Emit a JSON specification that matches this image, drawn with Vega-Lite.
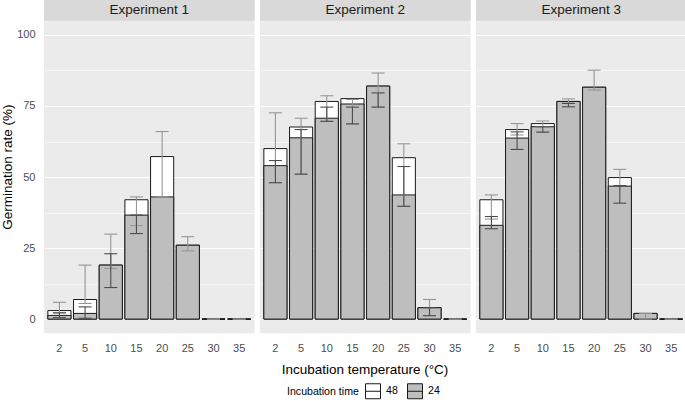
{
  "$schema": "https://vega.github.io/schema/vega-lite/v6.json",
  "padding": 0,
  "background": "white",
  "data": {"values": [
    {"experiment": "Experiment 1", "temp": 2, "time": "48", "rate": 3, "lo": 2.2, "hi": 5.9},
    {"experiment": "Experiment 1", "temp": 5, "time": "48", "rate": 6.9, "lo": 5.5, "hi": 19},
    {"experiment": "Experiment 1", "temp": 10, "time": "48", "rate": 19, "lo": 17.8, "hi": 29.9},
    {"experiment": "Experiment 1", "temp": 15, "time": "48", "rate": 42, "lo": 32.9, "hi": 43},
    {"experiment": "Experiment 1", "temp": 20, "time": "48", "rate": 57.2, "lo": 43, "hi": 66},
    {"experiment": "Experiment 1", "temp": 25, "time": "48", "rate": 26, "lo": 24, "hi": 29},
    {"experiment": "Experiment 1", "temp": 30, "time": "48", "rate": 0, "lo": 0, "hi": 0},
    {"experiment": "Experiment 1", "temp": 35, "time": "48", "rate": 0, "lo": 0, "hi": 0},
    {"experiment": "Experiment 1", "temp": 2, "time": "24", "rate": 1.3, "lo": 0.5, "hi": 2.2},
    {"experiment": "Experiment 1", "temp": 5, "time": "24", "rate": 2, "lo": 0.3, "hi": 4.3},
    {"experiment": "Experiment 1", "temp": 10, "time": "24", "rate": 19, "lo": 11.1, "hi": 23},
    {"experiment": "Experiment 1", "temp": 15, "time": "24", "rate": 36.6, "lo": 30.1, "hi": 36.6},
    {"experiment": "Experiment 1", "temp": 20, "time": "24", "rate": 43, "lo": null, "hi": null},
    {"experiment": "Experiment 1", "temp": 25, "time": "24", "rate": 26, "lo": null, "hi": null},
    {"experiment": "Experiment 1", "temp": 30, "time": "24", "rate": 0, "lo": null, "hi": null},
    {"experiment": "Experiment 1", "temp": 35, "time": "24", "rate": 0, "lo": null, "hi": null},
    {"experiment": "Experiment 2", "temp": 2, "time": "48", "rate": 60, "lo": 48, "hi": 72.6},
    {"experiment": "Experiment 2", "temp": 5, "time": "48", "rate": 67.6, "lo": 51, "hi": 70.7},
    {"experiment": "Experiment 2", "temp": 10, "time": "48", "rate": 76.6, "lo": 69.6, "hi": 78.6},
    {"experiment": "Experiment 2", "temp": 15, "time": "48", "rate": 77.6, "lo": 68.7, "hi": 77.3},
    {"experiment": "Experiment 2", "temp": 20, "time": "48", "rate": 82, "lo": 74.6, "hi": 86.6},
    {"experiment": "Experiment 2", "temp": 25, "time": "48", "rate": 56.8, "lo": 39.7, "hi": 61.7},
    {"experiment": "Experiment 2", "temp": 30, "time": "48", "rate": 4, "lo": 1.2, "hi": 6.9},
    {"experiment": "Experiment 2", "temp": 35, "time": "48", "rate": 0, "lo": 0, "hi": 0},
    {"experiment": "Experiment 2", "temp": 2, "time": "24", "rate": 54, "lo": 48, "hi": 55.8},
    {"experiment": "Experiment 2", "temp": 5, "time": "24", "rate": 63.8, "lo": 51, "hi": 66.7},
    {"experiment": "Experiment 2", "temp": 10, "time": "24", "rate": 70.7, "lo": 69.6, "hi": 74.6},
    {"experiment": "Experiment 2", "temp": 15, "time": "24", "rate": 75.7, "lo": 68.7, "hi": 74.6},
    {"experiment": "Experiment 2", "temp": 20, "time": "24", "rate": 82, "lo": 74.6, "hi": 79.6},
    {"experiment": "Experiment 2", "temp": 25, "time": "24", "rate": 43.7, "lo": 39.7, "hi": 53.7},
    {"experiment": "Experiment 2", "temp": 30, "time": "24", "rate": 4, "lo": 1.2, "hi": 4},
    {"experiment": "Experiment 2", "temp": 35, "time": "24", "rate": 0, "lo": null, "hi": null},
    {"experiment": "Experiment 3", "temp": 2, "time": "48", "rate": 42, "lo": 35.2, "hi": 43.7},
    {"experiment": "Experiment 3", "temp": 5, "time": "48", "rate": 66.7, "lo": 64.8, "hi": 68.8},
    {"experiment": "Experiment 3", "temp": 10, "time": "48", "rate": 68.8, "lo": 67.7, "hi": 69.7},
    {"experiment": "Experiment 3", "temp": 15, "time": "48", "rate": 76.6, "lo": 75.9, "hi": 77.5},
    {"experiment": "Experiment 3", "temp": 20, "time": "48", "rate": 81.6, "lo": 80.6, "hi": 87.6},
    {"experiment": "Experiment 3", "temp": 25, "time": "48", "rate": 49.8, "lo": 47, "hi": 52.7},
    {"experiment": "Experiment 3", "temp": 30, "time": "48", "rate": 2, "lo": 0, "hi": 2},
    {"experiment": "Experiment 3", "temp": 35, "time": "48", "rate": 0, "lo": 0, "hi": 0},
    {"experiment": "Experiment 3", "temp": 2, "time": "24", "rate": 33, "lo": 31.8, "hi": 36.1},
    {"experiment": "Experiment 3", "temp": 5, "time": "24", "rate": 63.7, "lo": 59.7, "hi": 65.9},
    {"experiment": "Experiment 3", "temp": 10, "time": "24", "rate": 67.7, "lo": 65.8, "hi": 67.7},
    {"experiment": "Experiment 3", "temp": 15, "time": "24", "rate": 76.6, "lo": 74.7, "hi": 75.9},
    {"experiment": "Experiment 3", "temp": 20, "time": "24", "rate": 81.6, "lo": null, "hi": null},
    {"experiment": "Experiment 3", "temp": 25, "time": "24", "rate": 46.8, "lo": 40.8, "hi": 47},
    {"experiment": "Experiment 3", "temp": 30, "time": "24", "rate": 2, "lo": null, "hi": null},
    {"experiment": "Experiment 3", "temp": 35, "time": "24", "rate": 0, "lo": null, "hi": null}
  ]},
  "facet": {
    "column": {
      "field": "experiment", "type": "nominal",
      "header": {
        "labels": false,
        "title": "Incubation temperature (°C)",
        "titleOrient": "bottom",
        "titleFontSize": 13.5,
        "titleFont": "Liberation Sans",
        "titleFontWeight": "normal",
        "titleColor": "#000000",
        "titlePadding": 0
      }
    }
  },
  "spacing": 5,
  "spec": {
    "width": 210.6,
    "height": 333.3,
    "layer": [
      {
        "transform": [{"filter": "datum.time === '48'"}],
        "mark": {"type": "bar", "stroke": "#1A1A1A", "strokeWidth": 1},
        "encoding": {
          "x": {
            "field": "temp", "type": "ordinal",
            "scale": {"paddingInner": 0.1, "paddingOuter": 0.15},
            "axis": {"title": null, "labelAngle": 0, "bandPosition": 0.5, "gridWidth": 1.1, "labelPadding": 8}
          },
          "y": {
            "field": "rate", "type": "quantitative", "stack": null,
            "title": "Germination rate (%)",
            "scale": {"domain": [-5, 112.3], "nice": false, "zero": false},
            "axis": {
              "values": [0, 12.5, 25, 37.5, 50, 62.5, 75, 87.5, 100],
              "labelExpr": "datum.value % 25 === 0 ? datum.label : ''",
              "gridWidth": {"condition": {"test": "datum.value % 25 === 0", "value": 1.1}, "value": 0.55},
              "labelPadding": 9, "titlePadding": 2
            }
          },
          "y2": {"datum": 0},
          "color": {
            "field": "time", "type": "nominal",
            "scale": {"domain": ["48", "24"], "range": ["#FFFFFF", "#BEBEBE"]},
            "legend": {
              "title": "Incubation time",
              "orient": "none", "legendX": 243, "legendY": 383,
              "direction": "horizontal",
              "titleOrient": "left", "titleBaseline": "middle", "titleAnchor": "middle",
              "titleFontSize": 10.6, "titleFontWeight": "normal", "titleColor": "#000000",
              "labelFontSize": 10.6, "labelColor": "#000000",
              "symbolType": "M-1,-1H1V1H-1Z M-1,0H1",
              "symbolSize": 225,
              "symbolStrokeColor": "#1A1A1A", "symbolStrokeWidth": 1,
              "labelOffset": 5, "columnPadding": 7, "titlePadding": 6
            }
          }
        }
      },
      {
        "transform": [{"filter": "datum.time === '24'"}],
        "mark": {"type": "bar", "stroke": "#1A1A1A", "strokeWidth": 1},
        "encoding": {
          "x": {"field": "temp", "type": "ordinal"},
          "y": {"field": "rate", "type": "quantitative", "stack": null, "title": "Germination rate (%)"},
          "y2": {"datum": 0},
          "color": {"field": "time", "type": "nominal"}
        }
      },
      {
        "transform": [{"filter": "datum.time === '48' && datum.lo != null"}],
        "layer": [
          {"mark": {"type": "rule", "color": "#969696", "strokeWidth": 1.1},
           "encoding": {"x": {"field": "temp", "type": "ordinal"}, "y": {"field": "lo", "type": "quantitative", "title": "Germination rate (%)"}, "y2": {"field": "hi"}}},
          {"mark": {"type": "tick", "color": "#969696", "size": 13, "thickness": 1.1, "opacity": 1},
           "encoding": {"x": {"field": "temp", "type": "ordinal"}, "y": {"field": "lo", "type": "quantitative", "title": "Germination rate (%)"}}},
          {"mark": {"type": "tick", "color": "#969696", "size": 13, "thickness": 1.1, "opacity": 1},
           "encoding": {"x": {"field": "temp", "type": "ordinal"}, "y": {"field": "hi", "type": "quantitative", "title": "Germination rate (%)"}}}
        ]
      },
      {
        "transform": [{"filter": "datum.time === '24' && datum.lo != null"}],
        "layer": [
          {"mark": {"type": "rule", "color": "#4D4D4D", "strokeWidth": 1.1},
           "encoding": {"x": {"field": "temp", "type": "ordinal"}, "y": {"field": "lo", "type": "quantitative", "title": "Germination rate (%)"}, "y2": {"field": "hi"}}},
          {"mark": {"type": "tick", "color": "#4D4D4D", "size": 13, "thickness": 1.1, "opacity": 1},
           "encoding": {"x": {"field": "temp", "type": "ordinal"}, "y": {"field": "lo", "type": "quantitative", "title": "Germination rate (%)"}}},
          {"mark": {"type": "tick", "color": "#4D4D4D", "size": 13, "thickness": 1.1, "opacity": 1},
           "encoding": {"x": {"field": "temp", "type": "ordinal"}, "y": {"field": "hi", "type": "quantitative", "title": "Germination rate (%)"}}}
        ]
      },
      {
        "transform": [{"aggregate": [{"op": "count", "as": "n"}], "groupby": ["experiment"]}],
        "layer": [
          {"mark": {"type": "rect", "fill": "#D9D9D9"},
           "encoding": {"x": {"value": 0}, "x2": {"value": "width"}, "y": {"datum": 105}, "y2": {"datum": 112.3}}},
          {"mark": {"type": "text", "fontSize": 13.5, "color": "#1A1A1A", "font": "Liberation Sans", "baseline": "middle", "align": "center"},
           "encoding": {"y": {"datum": 108.7}, "text": {"field": "experiment"}}}
        ]
      }
    ]
  },
  "config": {
    "font": "Liberation Sans",
    "view": {"stroke": null, "fill": "#EBEBEB"},
    "axis": {
      "domain": false, "ticks": false,
      "gridColor": "#FFFFFF",
      "labelColor": "#4D4D4D", "labelFontSize": 11, "labelFont": "Liberation Sans",
      "titleFontSize": 13.5, "titleFontWeight": "normal", "titleColor": "#000000", "titleFont": "Liberation Sans"
    },
    "axisY": {"labelOverlap": false}
  }
}
